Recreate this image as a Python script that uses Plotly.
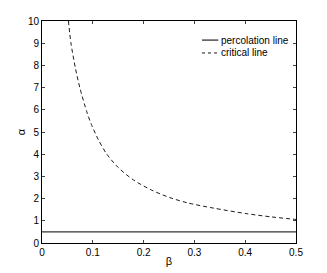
import plotly.graph_objects as go

beta_perc = [0.0, 0.5]
alpha_perc = [0.5, 0.5]

beta_crit = [0.052, 0.057, 0.066, 0.075, 0.089, 0.097, 0.111, 0.127, 0.150, 0.180, 0.216,
             0.251, 0.288, 0.338, 0.403, 0.45, 0.5]
alpha_crit = [10, 9.0, 7.85, 6.95, 5.85, 5.35, 4.65, 4.02, 3.4, 2.84, 2.38,
              2.05, 1.8, 1.57, 1.32, 1.18, 1.06]

series_names = ["percolation line", "critical line"]

x_ticks = [0, 0.1, 0.2, 0.3, 0.4, 0.5]
x_labels = ["0", "0.1", "0.2", "0.3", "0.4", "0.5"]
y_ticks = list(range(0, 11))
y_labels = [str(v) for v in y_ticks]

perc_line = dict(color="#333333", width=1.3)
crit_line = dict(color="#1a1a1a", width=1.0, dash="4px,3px")

fig = go.Figure()
fig.add_trace(go.Scatter(x=beta_perc, y=alpha_perc, mode="lines", name=series_names[0],
                         line=perc_line, showlegend=False))
fig.add_trace(go.Scatter(x=beta_crit, y=alpha_crit, mode="lines", name=series_names[1],
                         line=dict(crit_line, shape="spline", smoothing=0.8), showlegend=False))

# manual compact legend (MATLAB style)
leg_rows = [0.914, 0.856]
leg_styles = [perc_line, dict(color="#1a1a1a", width=1.0, dash="3px,3px")]
for name, yy, st in zip(series_names, leg_rows, leg_styles):
    fig.add_shape(type="line", xref="paper", yref="paper", x0=0.63, x1=0.694, y0=yy, y1=yy, line=st)
    fig.add_annotation(xref="paper", yref="paper", x=0.697, y=yy, text=name, showarrow=False,
                       xanchor="left", yanchor="middle", font=dict(size=10))

font = dict(family="Liberation Sans, Arial, sans-serif", size=10, color="#000000")
# page body has an 8px default margin, so the figure is sized 8px smaller
fig.update_layout(
    width=319, height=265,
    margin=dict(l=34, r=31, t=13, b=30),
    paper_bgcolor="white", plot_bgcolor="white",
    font=font,
    showlegend=False,
    xaxis=dict(range=[0, 0.5], tickvals=x_ticks, ticktext=x_labels, ticks="inside", ticklen=3,
               showline=True, linecolor="black", linewidth=1, mirror="ticks", showgrid=False,
               zeroline=False, automargin=False,
               title=dict(text="β", standoff=0, font=dict(size=11))),
    yaxis=dict(range=[0, 10], tickvals=y_ticks, ticktext=y_labels, ticks="inside", ticklen=3,
               showline=True, linecolor="black", linewidth=1, mirror="ticks", showgrid=False,
               zeroline=False, automargin=False,
               title=dict(text="α", standoff=0, font=dict(size=11))),
)
fig.write_html("out.html")
